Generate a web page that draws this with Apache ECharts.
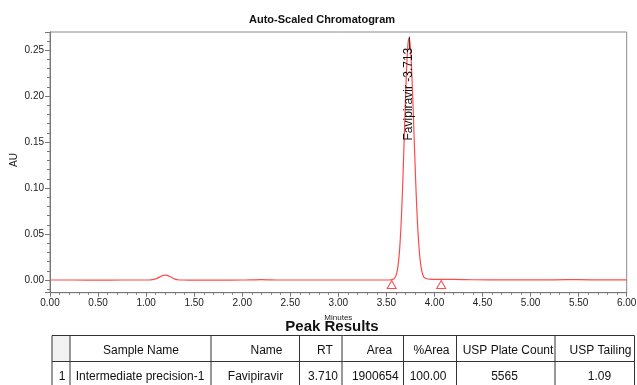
<!DOCTYPE html>
<html>
<head>
<meta charset="utf-8">
<script src="https://cdn.jsdelivr.net/npm/echarts@6/dist/echarts.min.js"></script>
<style>
html,body{margin:0;padding:0;background:#fff;}
#c{width:637px;height:385px;}
</style>
</head>
<body>
<div id="c"></div>
<script>
// ---- chromatogram trace (minutes, AU) ----
const minutes = [0.00,0.25,0.50,0.75,1.00,1.05,1.08,1.10,1.13,1.16,1.18,1.20,1.22,1.24,1.27,1.30,1.33,1.38,1.50,1.75,2.00,2.20,2.40,2.75,3.00,3.25,3.50,3.55,
  3.58,3.59,3.60,3.61,3.62,3.63,3.64,3.65,3.66,3.67,3.68,3.69,3.70,3.71,3.72,3.73,3.735,3.74,3.75,3.76,3.77,3.78,3.79,3.80,3.81,3.82,3.83,3.84,3.85,3.86,3.87,3.88,3.89,3.90,3.92,3.95,
  4.00,4.05,4.20,4.40,4.75,5.00,5.25,5.50,5.75,6.00];
const au = [0.0000,0.0000,-0.0001,0.0000,0.0000,0.0002,0.0006,0.0012,0.0026,0.0043,0.0051,0.0054,0.0050,0.0041,0.0025,0.0010,0.0003,0.0000,-0.0002,-0.0001,0.0000,0.0005,0.0000,0.0000,0.0000,0.0000,0.0000,0.0003,
  0.0014,0.0028,0.0050,0.0089,0.0149,0.0241,0.0371,0.0548,0.0776,0.1051,0.1364,0.1695,0.2016,0.2296,0.2505,0.2616,0.2630,0.2618,0.2523,0.2344,0.2097,0.1809,0.1503,0.1204,0.0930,0.0692,0.0496,0.0343,0.0228,0.0146,0.0090,0.0054,0.0031,0.0022,0.0014,0.0010,
  0.0007,0.0006,0.0006,0.0003,0.0001,0.0001,0.0002,0.0004,0.0001,0.0001];

// peak annotation
const peakName = 'Favipiravir';
const peakLabelRT = '3.713';
const peakApex = [3.735, 0.2630];
// integration start / end markers (minutes)
const markerTimes = [3.555, 4.07];

// ---- peak results table ----
const tableTitle = 'Peak Results';
const tableHeaders = ['', 'Sample Name', 'Name', 'RT', 'Area', '%Area', 'USP Plate Count', 'USP Tailing'];
const tableRow = ['1', 'Intermediate precision-1', 'Favipiravir', '3.710', '1900654', '100.00', '5565', '1.09'];

// axis texts
const chartTitle = 'Auto-Scaled Chromatogram';
const xName = 'Minutes';
const yName = 'AU';

const FONT = 'Liberation Sans, Arial, sans-serif';
const RED = '#ff4a4a';

const traceData = minutes.map((m, i) => [m, au[i]]);

// table layout
const colX = [52, 70, 211, 299.5, 342, 403.5, 456.5, 555, 634.5];
const headCX = [61, 141, 266.5, 325, 379.5, 431.5, 508, 600.5];
const rowCX  = [62, 140, 255.5, 323, 375.3, 428, 504.5, 599.5];
const tTop = 335.5, tMid = 361.5, tBot = 400;

const graphics = [];
graphics.push({type:'text', x: 322, y: 20, style:{text: chartTitle, font: 'bold 11px ' + FONT, fill:'#111', align:'center', verticalAlign:'middle'}});
graphics.push({type:'text', x: 14, y: 160, rotation: Math.PI / 2, style:{text: yName, font: '10px ' + FONT, fill:'#222', align:'center', verticalAlign:'middle'}});
graphics.push({type:'text', x: 332, y: 326.5, style:{text: tableTitle, font: 'bold 15px ' + FONT, fill:'#111', align:'center', verticalAlign:'middle'}, z: 10});
graphics.push({type:'rect', shape:{x: colX[0], y: tTop, width: colX[1]-colX[0], height: tMid-tTop}, style:{fill:'#f2f2f2'}});
[tTop, tMid].forEach(y => graphics.push({type:'line', shape:{x1: colX[0], y1: y, x2: colX[colX.length-1], y2: y}, style:{stroke:'#333', lineWidth:1}}));
colX.forEach(x => graphics.push({type:'line', shape:{x1: x, y1: tTop, x2: x, y2: tBot}, style:{stroke:'#333', lineWidth:1}}));
tableHeaders.forEach((t, i) => { if (t) graphics.push({type:'text', x: headCX[i], y: 351, style:{text: t, font: '12px ' + FONT, fill:'#111', align:'center', verticalAlign:'middle'}}); });
tableRow.forEach((t, i) => graphics.push({type:'text', x: rowCX[i], y: 376.5, style:{text: t, font: '12px ' + FONT, fill:'#111', align:'center', verticalAlign:'middle'}}));

const chart = echarts.init(document.getElementById('c'), null, {renderer:'canvas'});
chart.setOption({
  animation: false,
  backgroundColor: '#fff',
  grid: {left: 50, top: 32, right: 10.3, bottom: 92.3, containLabel: false, outerBoundsMode: 'none',
    show: true, borderColor: '#8a8a8a', borderWidth: 1, backgroundColor: 'transparent'},
  xAxis: {
    type: 'value', min: 0, max: 6, interval: 0.5,
    name: xName, nameLocation: 'middle', nameGap: 21,
    nameTextStyle: {fontSize: 8, color: '#222', fontFamily: FONT},
    axisLine: {show: true, onZero: false, lineStyle: {color: '#777', width: 1}},
    axisTick: {show: true, inside: false, length: 4, lineStyle: {color: '#777'}},
    minorTick: {show: true, splitNumber: 5, length: 2, lineStyle: {color: '#777'}},
    splitLine: {show: false},
    axisLabel: {fontSize: 10, color: '#222', fontFamily: FONT, margin: 6, formatter: v => v.toFixed(2)}
  },
  yAxis: {
    type: 'value', min: -0.0138, max: 0.2696, splitNumber: 5,
    axisLine: {show: true, onZero: false, lineStyle: {color: '#777', width: 1}},
    axisTick: {show: true, inside: false, length: 5, lineStyle: {color: '#777'}},
    minorTick: {show: true, splitNumber: 5, length: 3, lineStyle: {color: '#777'}},
    splitLine: {show: false},
    axisLabel: {fontSize: 10, color: '#222', fontFamily: FONT, margin: 6, showMinLabel: false, showMaxLabel: false,
      formatter: v => (Math.abs(v % 0.05) < 1e-6 || Math.abs(Math.abs(v % 0.05) - 0.05) < 1e-6) ? v.toFixed(2) : ''}
  },
  series: [{
    type: 'line',
    data: traceData,
    showSymbol: false,
    smooth: 0.2,
    lineStyle: {color: RED, width: 1.2},
    z: 3,
    markPoint: {
      silent: true,
      data: [
        ...markerTimes.map(t => ({coord: [t, -0.0049], symbol: 'triangle', symbolSize: [9, 8],
          itemStyle: {color: 'rgba(0,0,0,0)', borderColor: RED, borderWidth: 1}, label: {show: false}})),
        {coord: [peakApex[0], 0.201], symbol: 'circle', symbolSize: 0,
          label: {show: true, position: 'inside', rotate: 90, offset: [1, 0], formatter: peakName + ' -' + peakLabelRT,
            fontSize: 12, color: '#111', fontFamily: FONT}}
      ]
    },
    markLine: {
      silent: true, symbol: 'none', label: {show: false},
      lineStyle: {color: '#333', width: 1, type: 'solid'},
      data: [[{coord: [peakApex[0], peakApex[1] + 0.0015]}, {coord: [peakApex[0], 0.251]}]]
    }
  }],
  graphic: graphics
});
</script>
</body>
</html>
